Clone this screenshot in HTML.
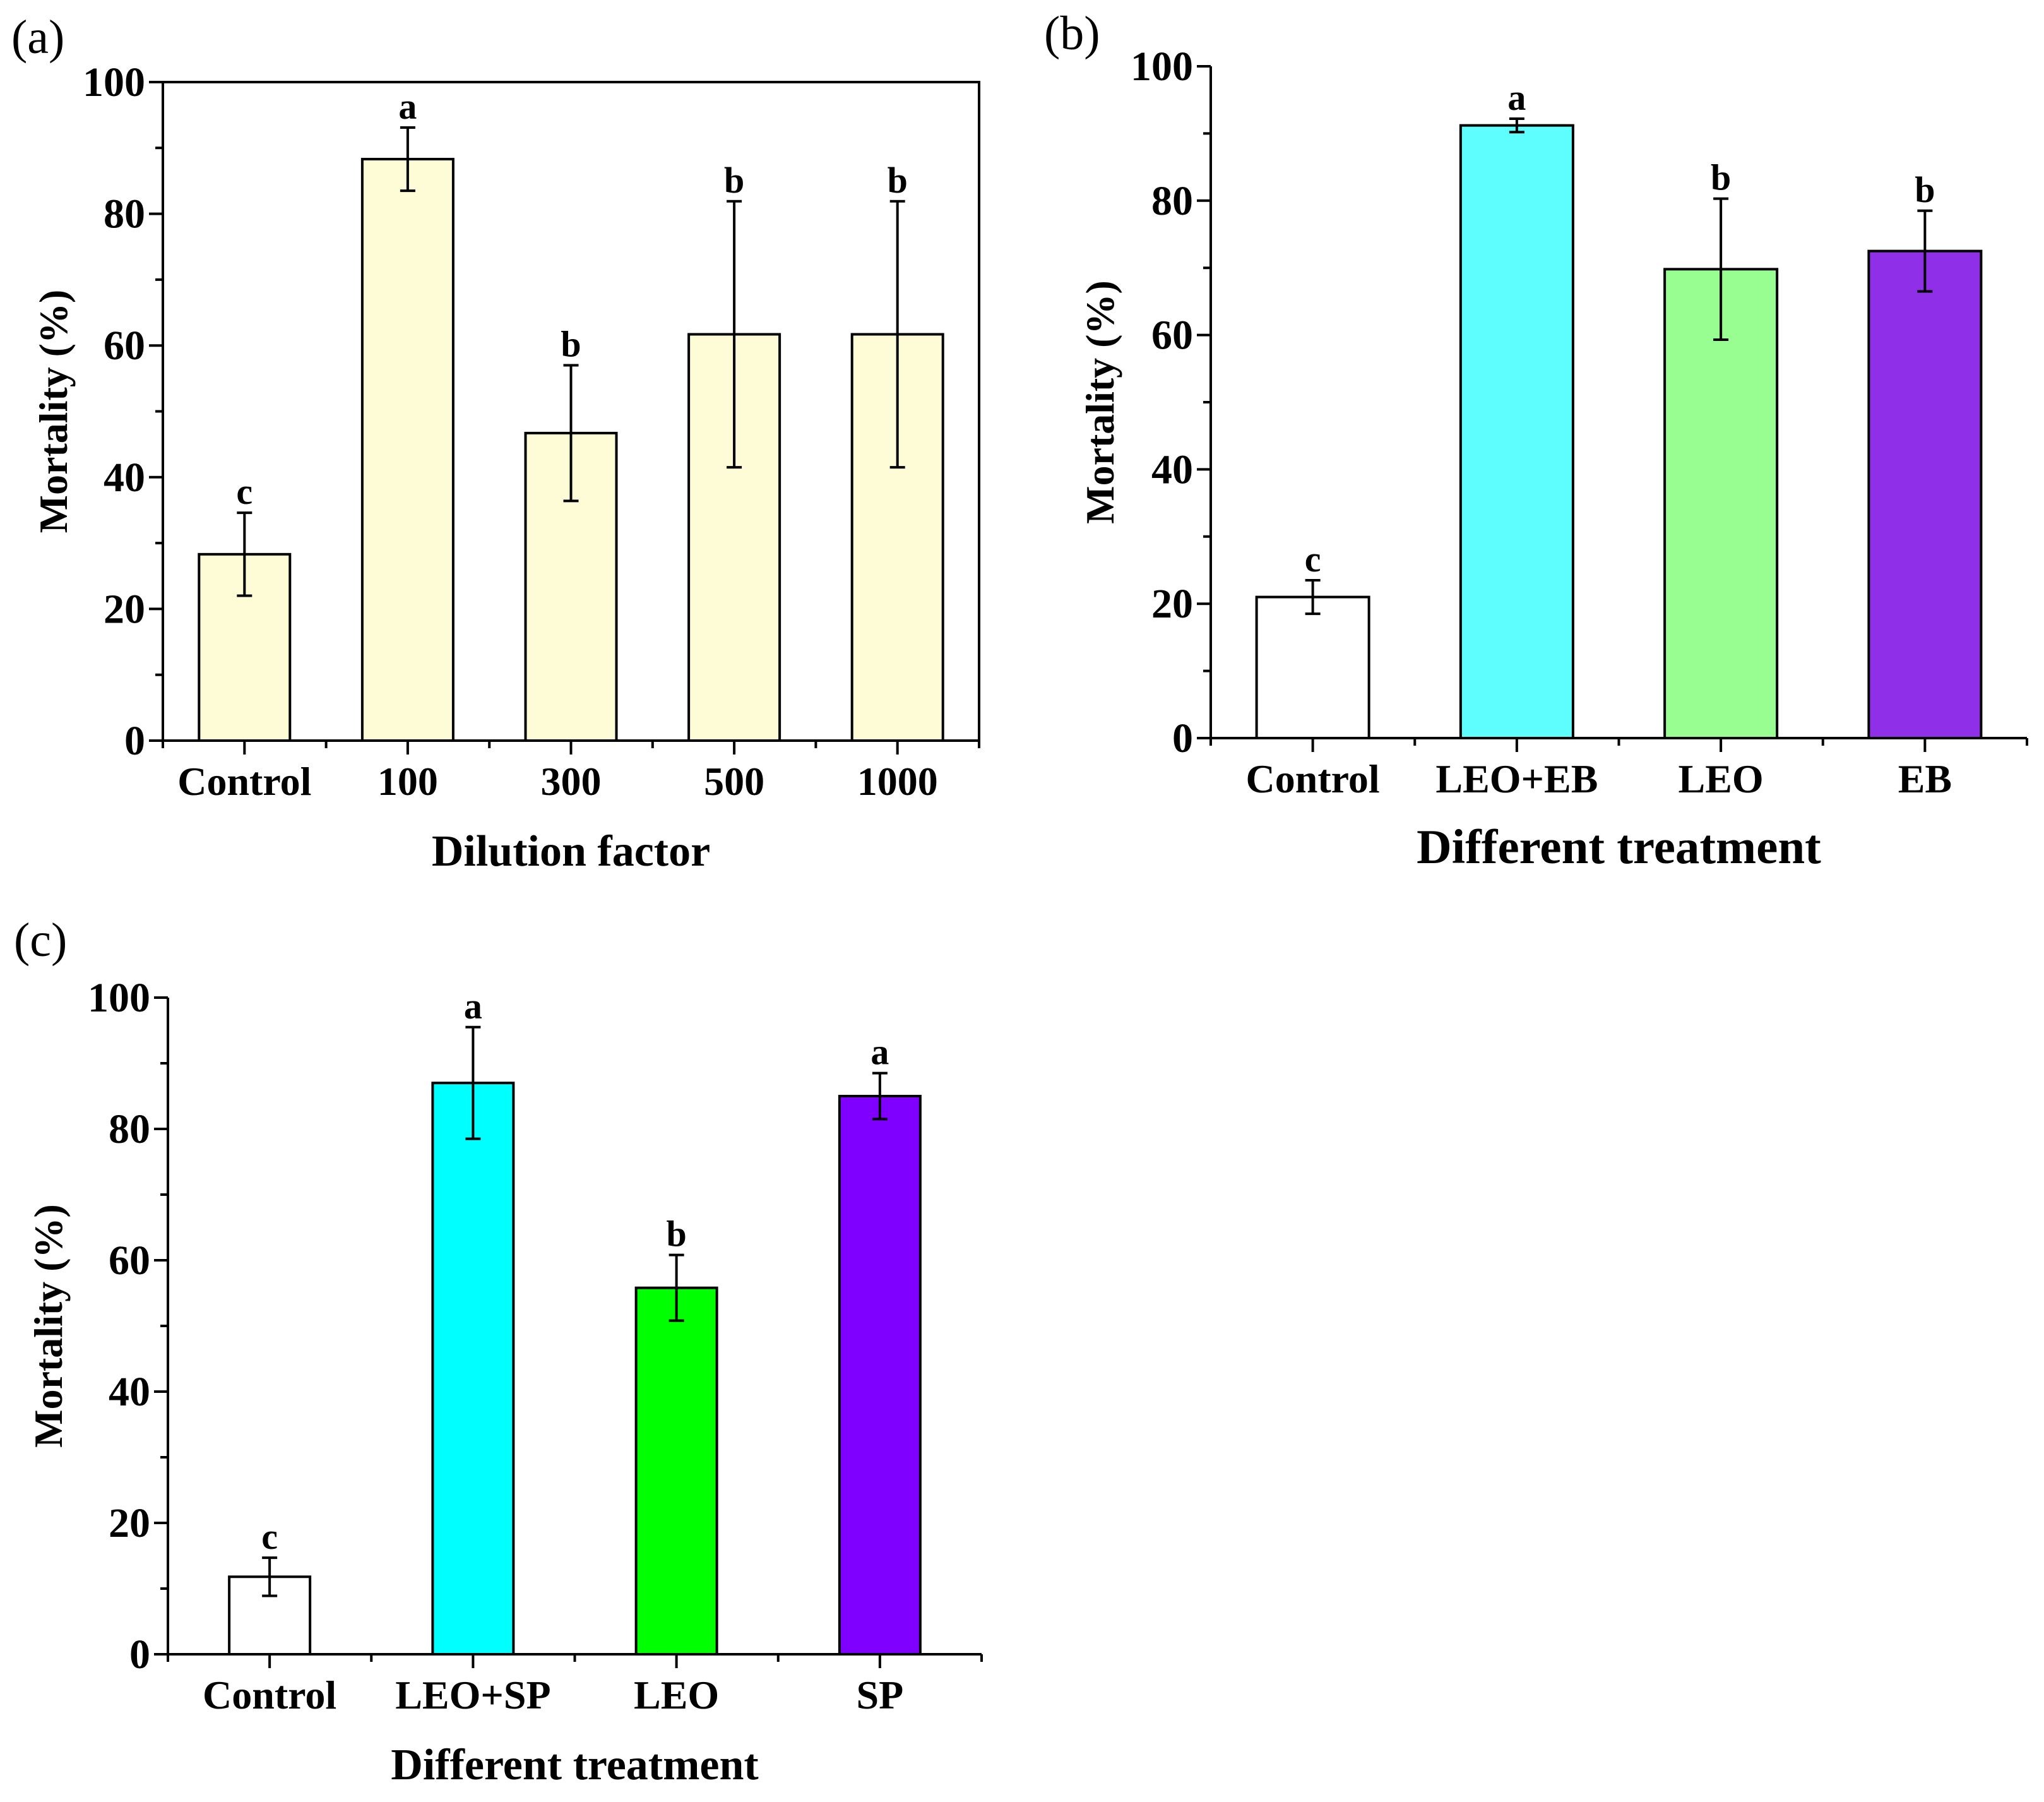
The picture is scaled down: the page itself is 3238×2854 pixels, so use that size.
<!DOCTYPE html>
<html><head><meta charset="utf-8"><style>
html,body{margin:0;padding:0;background:#fff;}
svg{display:block;}
text{font-family:"Liberation Serif",serif;font-weight:bold;fill:#000;}
.pl{font-family:"Liberation Serif",serif;font-weight:normal;}
</style></head><body>
<svg id="chart" width="3238" height="2854" viewBox="0 0 3238 2854" xmlns="http://www.w3.org/2000/svg">
<text class="pl" x="18" y="84" font-size="76">(a)</text>
<text class="pl" x="1654" y="78" font-size="76">(b)</text>
<text class="pl" x="22" y="1514" font-size="76">(c)</text>
</svg>
<script>
const catsA = ["Control","100","300","500","1000"];
const valsA = [28.3,88.3,46.7,61.7,61.7];
const errA = [6.3,4.8,10.3,20.2,20.2];
const lettersA = ["c","a","b","b","b"];
const colorsA = ["#fdfcd6","#fdfcd6","#fdfcd6","#fdfcd6","#fdfcd6"];

const catsB = ["Control","LEO+EB","LEO","EB"];
const valsB = [21.0,91.2,69.8,72.5];
const errB = [2.5,1.0,10.5,6.0];
const lettersB = ["c","a","b","b"];
const colorsB = ["#ffffff","#5ffefe","#98fe92","#8f30e8"];

const catsC = ["Control","LEO+SP","LEO","SP"];
const valsC = [11.8,87.0,55.8,85.0];
const errC = [2.9,8.5,5.0,3.5];
const lettersC = ["c","a","b","a"];
const colorsC = ["#ffffff","#00ffff","#00ff00","#7f00ff"];

const yTicks = [0,20,40,60,80,100];

const svg = document.getElementById('chart');
const NS = "http://www.w3.org/2000/svg";
function mk(tag, attrs, parent){
  const e = document.createElementNS(NS, tag);
  for (const k in attrs) e.setAttribute(k, attrs[k]);
  (parent||svg).appendChild(e);
  return e;
}

function panel(id, P, cats, vals, errs, letters, colors, xTitle){
  const g = mk('g', {});
  
  
  const n = cats.length;
  const step = (P.right - P.left) / n;
  const xc = i => P.left + step * (i + 0.5);
  const y = v => P.bottom - (v / 100) * (P.bottom - P.top);
  const bw = P.bw;
  for (let i = 0; i < n; i++){
    const r = mk('rect', {x: xc(i) - bw/2, y: y(vals[i]), width: bw, height: y(0) - y(vals[i]), fill: colors[i], stroke: '#000', 'stroke-width': 4}, g);
    
    
    const top = y(vals[i] + errs[i]), bot = y(vals[i] - errs[i]);
    const eb = mk('path', {d: `M${xc(i)} ${top}V${bot}M${xc(i)-12} ${top}H${xc(i)+12}M${xc(i)-12} ${bot}H${xc(i)+12}`, stroke: '#000', 'stroke-width': 4, fill: 'none'}, g);
    
    
    const lt = mk('text', {x: xc(i), y: top - 14, 'font-size': 58, 'text-anchor': 'middle'}, g);
    lt.textContent = letters[i];
    
    
    const cl = mk('text', {x: xc(i), y: P.bottom + 86, 'font-size': P.catFs, 'text-anchor': 'middle'}, g);
    cl.textContent = cats[i];
    
    
  }
  let d = `M${P.left} ${P.top}V${P.bottom}H${P.right}`;
  if (P.box) d += `V${P.top}H${P.left}`;
  const ax = mk('path', {d: d, stroke: '#000', 'stroke-width': 4, fill: 'none'}, g);
  
  
  let td = '';
  for (let v = 0; v <= 100; v += 10){
    const len = (v % 20 === 0) ? 22 : 12;
    td += `M${P.left - len} ${y(v)}H${P.left}`;
  }
  for (let i = 0; i <= n; i++){
    td += `M${P.left + step*i} ${P.bottom}v12`;
    if (i < n) td += `M${xc(i)} ${P.bottom}v22`;
  }
  const tk = mk('path', {d: td, stroke: '#000', 'stroke-width': 4, fill: 'none'}, g);
  
  
  yTicks.forEach(v => {
    const t = mk('text', {x: P.left - 28, y: y(v) + 22, 'font-size': 66, 'text-anchor': 'end'}, g);
    t.textContent = v;
    
    
  });
  const yt = mk('text', {x: 0, y: 0, 'font-size': P.titleFs, 'text-anchor': 'middle', transform: `translate(${P.ytx},${(P.top+P.bottom)/2}) rotate(-90)`}, g);
  yt.textContent = 'Mortality (%)';
  
  
  const xt = mk('text', {x: (P.left + P.right)/2, y: P.bottom + 198, 'font-size': P.xtFs, 'text-anchor': 'middle'}, g);
  xt.textContent = xTitle;
  
  
}

panel('a', {left:258, right:1551, top:130, bottom:1173, bw:144, box:true, catFs:64, titleFs:64, xtFs:70, ytx:106}, catsA, valsA, errA, lettersA, colorsA, 'Dilution factor');
panel('b', {left:1918, right:3211, top:105, bottom:1169, bw:178, box:false, catFs:64, titleFs:64, xtFs:77, ytx:1764}, catsB, valsB, errB, lettersB, colorsB, 'Different treatment');
panel('c', {left:266, right:1555, top:1580, bottom:2620, bw:128, box:false, catFs:64, titleFs:64, xtFs:70, ytx:98}, catsC, valsC, errC, lettersC, colorsC, 'Different treatment');
</script>
</body></html>
